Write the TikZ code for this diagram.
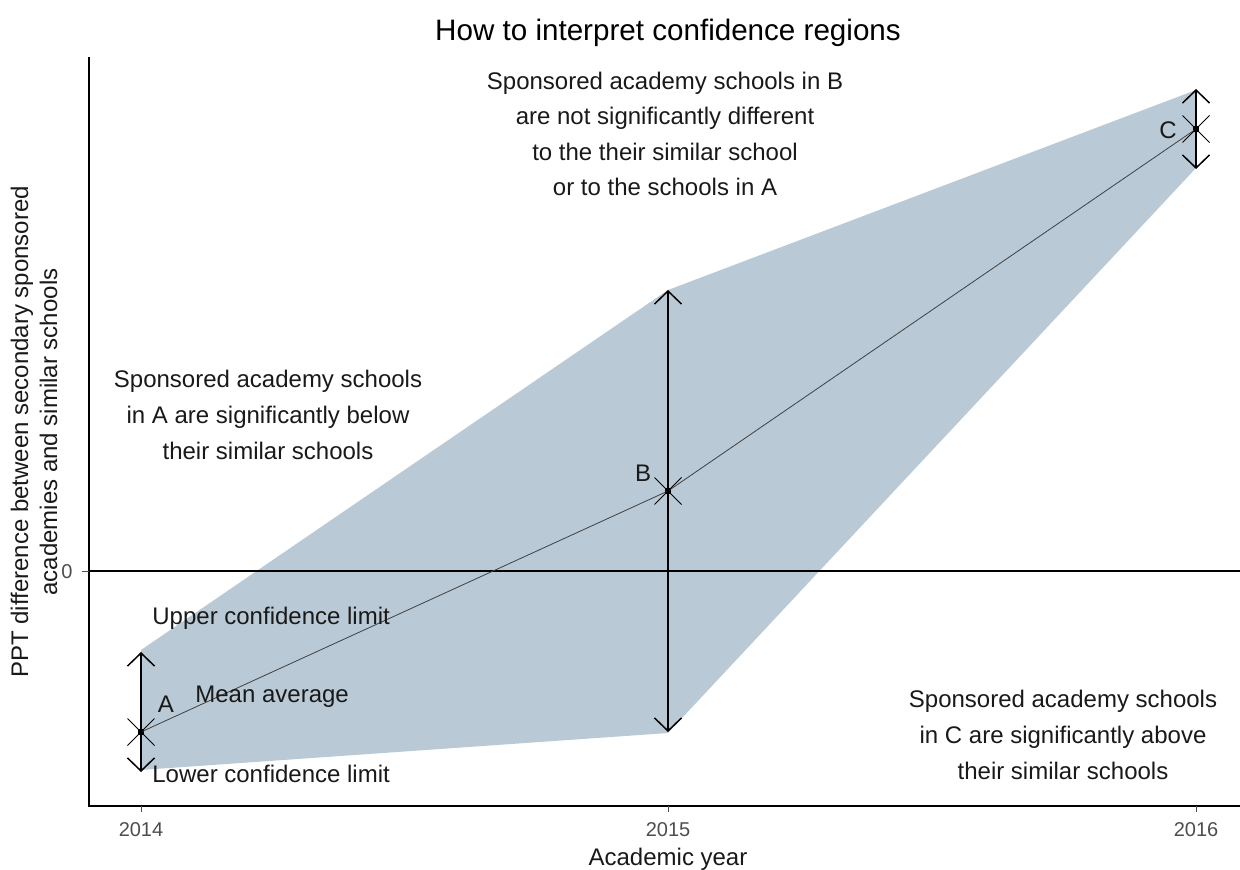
\documentclass[tikz,border=0pt]{standalone}
\usepackage{fontspec}
\setmainfont{Liberation Sans}
\usetikzlibrary{arrows.meta,shapes.misc}
\definecolor{ribboncol}{RGB}{185,202,214}
\definecolor{tickgray}{RGB}{77,77,77}
\tikzset{
  ribbon/.style={fill=ribboncol, draw=none},
  axisline/.style={line width=0.6pt, black},
  zeroline/.style={line width=0.6pt, black},
  tickline/.style={line width=0.5pt, tickgray},
  ticklabel/.style={font=\fontsize{10}{12}\selectfont, text=tickgray, inner sep=0pt},
  errbar/.style={line width=0.75pt, {Straight Barb[length=6.5pt,width=13.5pt]}-{Straight Barb[length=6.5pt,width=13.5pt]}},
  meanline/.style={line width=0.4pt, black!75},
  xmark/.style={cross out, draw=black, line width=0.5pt, minimum size=13pt, inner sep=0pt},
  meandot/.style={rectangle, fill=black, minimum size=2.8pt, inner sep=0pt},
  annot/.style={font=\fontsize{12}{17.8}\selectfont, align=center, text=black!90, inner sep=0pt},
  label12/.style={font=\fontsize{12}{14}\selectfont, text=black!90, inner sep=0pt},
}
\begin{document}
\begin{tikzpicture}[x={(0.5pt,0)}, y={(0,-0.5pt)}]
\useasboundingbox (0,0) rectangle (1240,870);
% ribbon
\fill[ribbon] (141,650) -- (668,290) -- (1196,90) -- (1196,168) -- (668,733) -- (141,770) -- cycle;
% axes
\coordinate (origin) at (89,806);
\coordinate (ytop) at (89,57);
\coordinate (xend) at (1240,806);
\coordinate (zl) at (89,571);
\coordinate (zr) at (1240,571);
\draw[zeroline] (zl) -- (zr);
\draw[axisline] (ytop) -- (origin) -- (xend);
% ticks
\coordinate (t0a) at (82,571);
\draw[tickline] (t0a) -- (zl);
\node[ticklabel, anchor=base east] (y0) at (73,578) {0};
\foreach \xx/\yr in {141/2014, 668/2015, 1196/2016}{
  \draw[tickline] (\xx,806) -- (\xx,812);
  \node[ticklabel, anchor=base] (yr\yr) at (\xx,836) {\yr};
}
% mean points
\node[meandot] (pA) at (141,732) {};
\node[meandot] (pB) at (668,491) {};
\node[meandot] (pC) at (1196,129) {};
\draw[meanline] (pA.center) -- (pB.center) -- (pC.center);
% error bars
\coordinate (Aup) at (141,652);
\coordinate (Alo) at (141,772);
\coordinate (Bup) at (668,290);
\coordinate (Blo) at (668,732);
\coordinate (Cup) at (1196,89);
\coordinate (Clo) at (1196,169);
\draw[errbar] (Alo) -- (Aup);
\draw[errbar] (Blo) -- (Bup);
\draw[errbar] (Clo) -- (Cup);
\node[xmark] (xA) at (pA) {};
\node[xmark] (xB) at (pB) {};
\node[xmark] (xC) at (pC) {};
% labels
\node[label12, anchor=base] (lA) at (166,712) {A};
\node[label12, anchor=base] (lB) at (643,482) {B};
\node[label12, anchor=base] (lC) at (1168,139) {C};
\node[label12, anchor=base west] (upper) at (152,624) {Upper confidence limit};
\node[label12, anchor=base west] (mean) at (195,702) {Mean average};
\node[label12, anchor=base west] (lower) at (152,782) {Lower confidence limit};
% annotations
\node[annot] (annB) at (665,134) {Sponsored academy schools in B\\are not significantly different\\to the their similar school\\or to the schools in A};
\node[annot] (annA) at (268,415) {Sponsored academy schools\\in A are significantly below\\their similar schools};
\node[annot] (annC) at (1063,735) {Sponsored academy schools\\in C are significantly above\\their similar schools};
% titles
\node[font=\fontsize{14.8}{17}\selectfont, anchor=base, inner sep=0pt] (title) at (668,41) {How to interpret confidence regions};
\node[label12, anchor=base] (xlab) at (668,865) {Academic year};
\node[label12, rotate=90, anchor=base] (ylab1) at (28,432) {PPT difference between secondary sponsored};
\node[label12, rotate=90, anchor=base] (ylab2) at (57,432) {academies and similar schools};
\end{tikzpicture}
\end{document}
